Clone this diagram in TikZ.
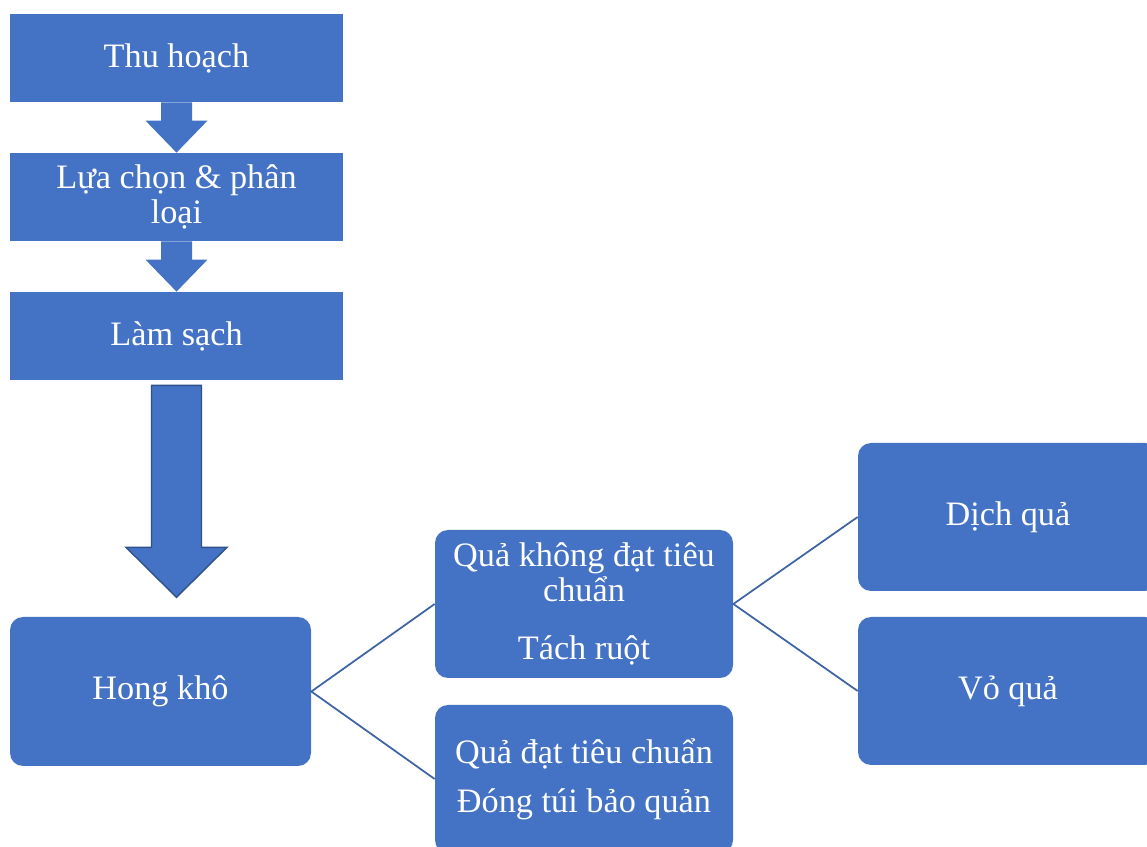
\documentclass[tikz,border=0pt]{standalone}
\usepackage{fontspec}
\setmainfont{Liberation Serif}
\usetikzlibrary{calc}

\definecolor{boxblue}{HTML}{4472C4}
\definecolor{edgeblue}{HTML}{2F528F}
\definecolor{lineblue}{HTML}{3F64A6}

\def\pxl{0.02cm} % one pixel of the reference

\tikzset{
  stepbox/.style={rectangle, fill=boxblue, text=white, inner sep=0pt,
    align=center, font=\fontsize{19.5}{20}\selectfont,
    minimum width={333*\pxl}, minimum height={88*\pxl}},
  roundbox/.style={stepbox, rounded corners={13*\pxl},
    minimum width={300*\pxl}, minimum height={148*\pxl}},
  smallarrow/.style={fill=boxblue},
  bigarrow/.style={fill=boxblue, draw=edgeblue, line width=0.8pt, line join=miter},
  branch/.style={draw=lineblue, line width=1pt}
}

% block arrow: start, tip, half shaft, half head, head length
\newcommand{\blockarrow}[6]{%
  \path[#6] ($(#1)+(-#3,0)$) -- ($(#2)+(-#3,-#5)$) -- ($(#2)+(-#4,-#5)$)
    -- (#2) -- ($(#2)+(#4,-#5)$) -- ($(#2)+(#3,-#5)$) -- ($(#1)+(#3,0)$) -- cycle;}

\begin{document}
\begin{tikzpicture}[x=0.02cm, y=-0.02cm]
\clip (0,0) rectangle (1147,847);
\fill[white] (0,0) rectangle (1147,847);

% steps
\node[stepbox] (thu) at (176.5,58) {Thu hoạch};
\node[stepbox] (lua) at (176.5,197) {Lựa chọn \& phân\\loại};
\node[stepbox] (lam) at (176.5,336) {Làm sạch};

% arrows between steps
\blockarrow{thu.south}{lua.north}{15.5}{31}{32}{smallarrow}
\blockarrow{lua.south}{lam.north}{15.5}{31}{32}{smallarrow}

% big arrow
\coordinate (bigtop) at ($(lam.south)+(0,5)$);
\coordinate (bigtip) at ($(lam.south)+(0,217)$);
\blockarrow{bigtop}{bigtip}{25}{50.5}{50}{bigarrow}

% branches
\node[roundbox, minimum width={301*\pxl}, minimum height={149*\pxl}] (hong) at (160.5,691.5) {Hong khô};
\node[roundbox, minimum width={298*\pxl}] (qkd) at (584,604)
  {Quả không đạt tiêu\\chuẩn\\[13pt]Tách ruột};
\node[roundbox, minimum width={298*\pxl}] (qd) at (584,779)
  {Quả đạt tiêu chuẩn\\[8pt]Đóng túi bảo quản};
\node[roundbox] (dich) at (1008,517) {Dịch quả};
\node[roundbox] (vo) at (1008,691) {Vỏ quả};

\draw[branch] (qkd.west) -- (hong.east) -- (qd.west);
\draw[branch] (dich.west) -- (qkd.east) -- (vo.west);

\end{tikzpicture}
\end{document}
